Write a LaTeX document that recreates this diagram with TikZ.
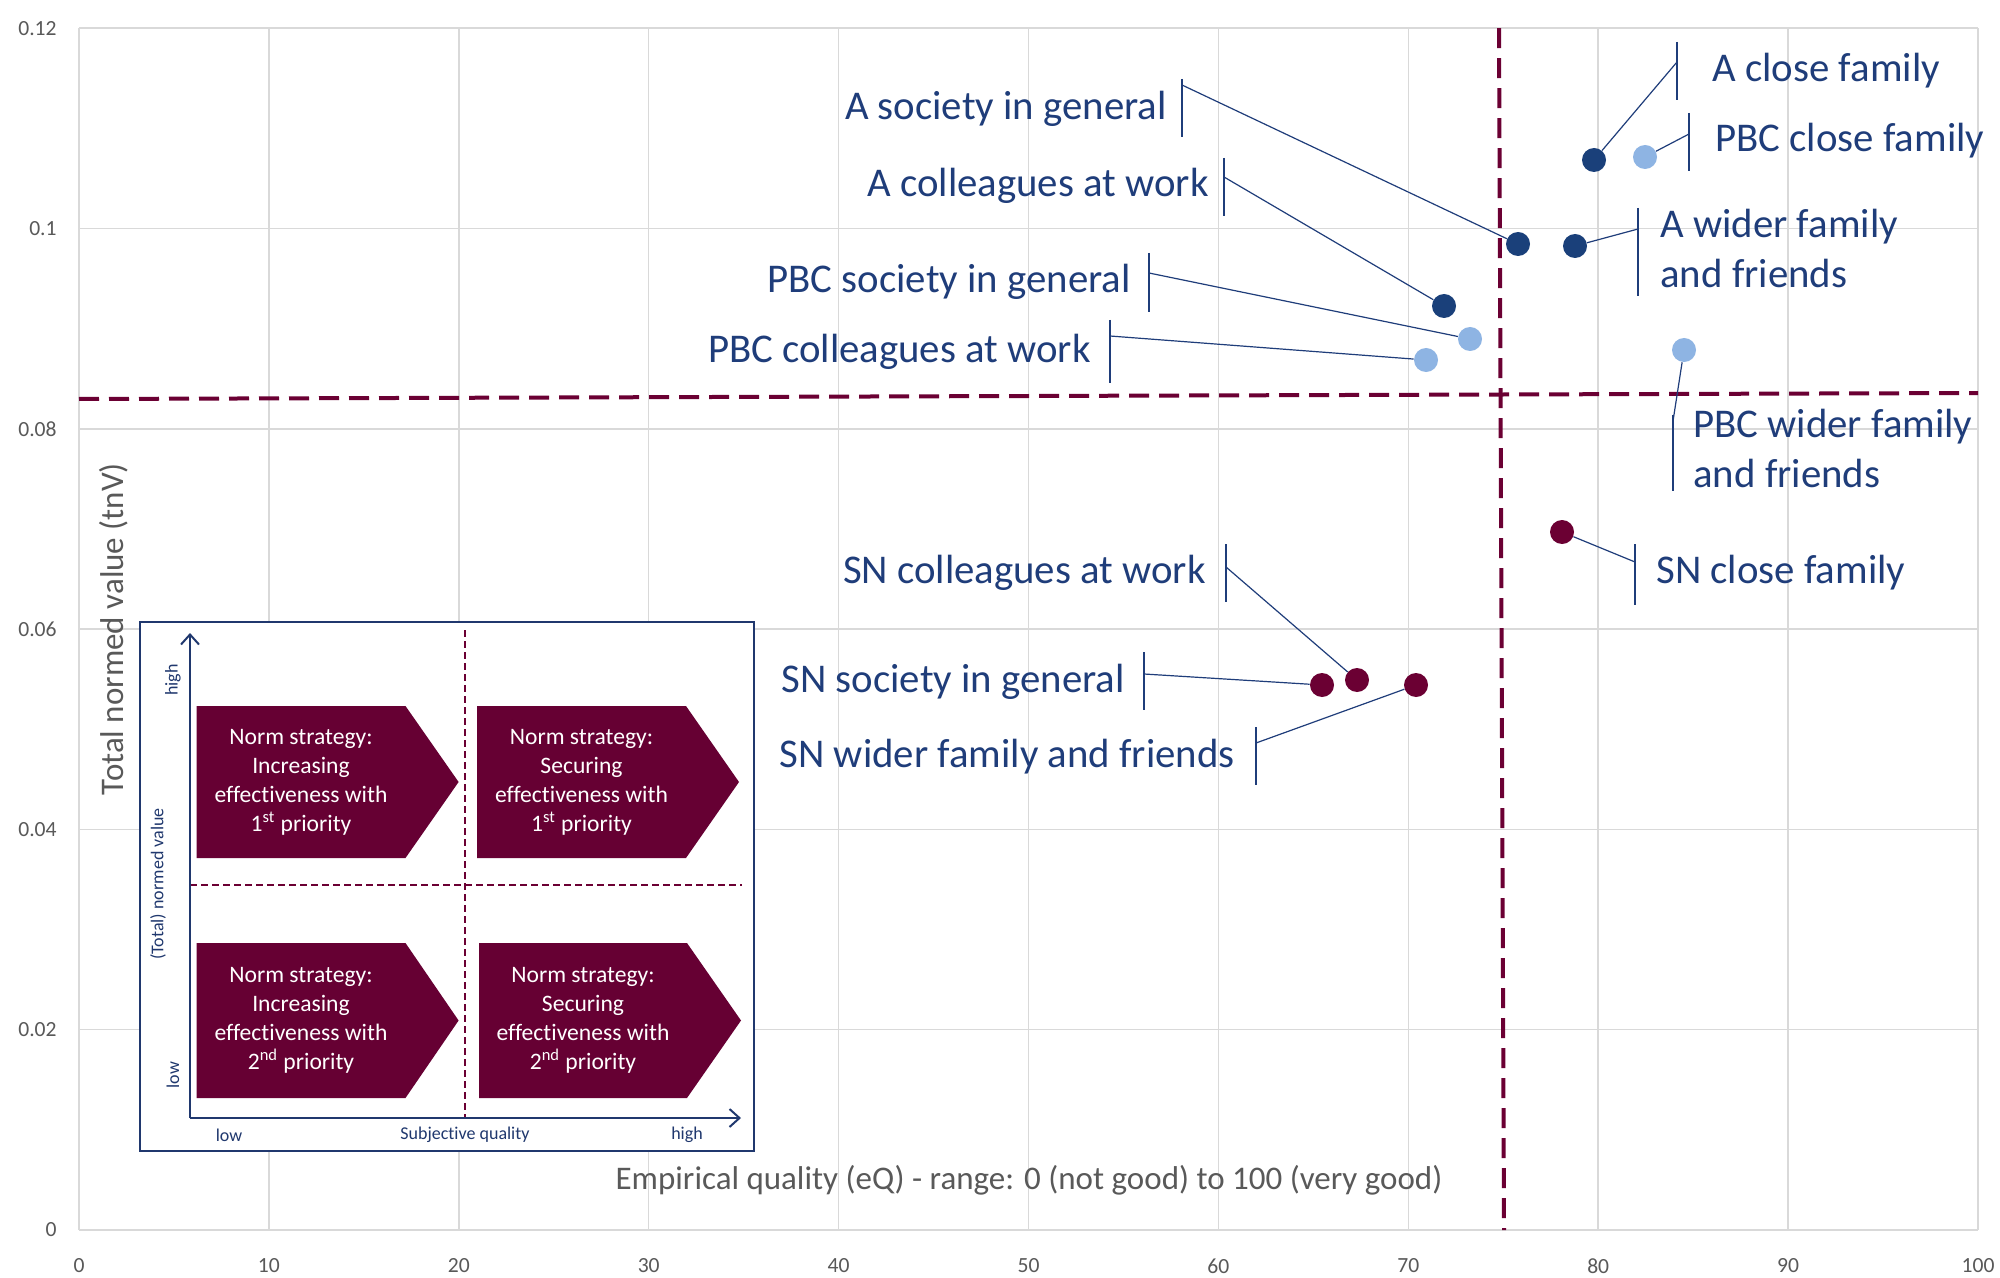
\documentclass[tikz,border=0pt]{standalone}
\usepackage{fontspec}
\setmainfont{Carlito}[Ligatures=NoCommon]
\usetikzlibrary{arrows.meta}
\definecolor{gridgray}{RGB}{217,217,217}
\definecolor{tickgray}{RGB}{89,89,89}
\definecolor{maroon}{RGB}{107,0,51}
\definecolor{darkpt}{RGB}{26,64,122}
\definecolor{lightpt}{RGB}{142,180,227}
\definecolor{lblblue}{RGB}{31,61,122}
\definecolor{insetblue}{RGB}{32,56,110}
\definecolor{boxfill}{RGB}{102,0,51}
\begin{document}
\begin{tikzpicture}[x=0.5pt,y=-0.5pt,
  gridline/.style={draw=gridgray,line width=0.75pt},
  ticklbl/.style={text=tickgray,font=\fontsize{10.8}{13}\selectfont,inner sep=0pt},
  axtitle/.style={text=tickgray,font=\fontsize{16.5}{20}\selectfont,inner sep=0pt},
  refline/.style={draw=maroon,line width=2pt,dash pattern=on 10pt off 5pt},
  dkpt/.style={circle,fill=darkpt,minimum size=12pt,inner sep=0pt},
  ltpt/.style={circle,fill=lightpt,minimum size=12pt,inner sep=0pt},
  mrpt/.style={circle,fill=maroon,minimum size=12pt,inner sep=0pt},
  lbltext/.style={text=lblblue,font=\fontsize{20.4}{25}\selectfont,inner sep=0pt,align=left},
  leader/.style={draw=lblblue,line width=0.6pt},
  insetaxis/.style={draw=insetblue,line width=1pt},
  insetdash/.style={draw=maroon,line width=0.6pt,dash pattern=on 3.5pt off 2pt},
  insettext/.style={text=insetblue,font=\fontsize{9}{11}\selectfont,inner sep=0pt},
  strattext/.style={text=white,font=\fontsize{11.8}{14.5}\selectfont,align=center,inner sep=0pt},
  stratbox/.style={fill=boxfill}
]
\useasboundingbox (0,0) rectangle (2000,1278);
\fill[white] (0,0) rectangle (2000,1278);

% gridlines
\foreach \i in {0,...,10} {
  \draw[gridline] ({79+189.9*\i},28.2) -- ({79+189.9*\i},1230);
}
\foreach \j in {0,...,6} {
  \draw[gridline] (79,{1230-200.3*\j}) -- (1978,{1230-200.3*\j});
}
% tick labels
\foreach \i/\t in {0/0,1/10,2/20,3/30,4/40,5/50,6/60,7/70,8/80,9/90,10/100} {
  \node[ticklbl] (xt\i) at ({79+189.9*\i},1266) {\t};
}
\foreach \j/\t in {0/0,1/0.02,2/0.04,3/0.06,4/0.08,5/0.1,6/0.12} {
  \node[ticklbl,anchor=east] (yt\j) at (57,{1230-200.3*\j}) {\t};
}
% axis titles
\node[axtitle,anchor=base] (xtitle) at (1029,1189) {Empirical quality (eQ) - range: 0 (not good) to 100 (very good)};
\node[axtitle,rotate=90,anchor=base] (ytitle) at (123,629) {Total normed value (tnV)};

% reference dashed lines
\coordinate (vtop) at (1499,28.2);
\coordinate (vbot) at (1504,1230);
\coordinate (hleft) at (79,399);
\coordinate (hright) at (1978,393);
\draw[refline] (vtop) -- (vbot);
\draw[refline] (hleft) -- (hright);

% inset
\draw[insetaxis,fill=white] (140,622) rectangle (754,1151);
\coordinate (io) at (190,1118);
\coordinate (iytop) at (190,633);
\coordinate (ixend) at (741,1118);
\coordinate (ivt) at (465,630);
\coordinate (ivb) at (465,1118);
\coordinate (ihl) at (190,885);
\coordinate (ihr) at (742,885);
\draw[insetdash] (ivt) -- (ivb);
\draw[insetdash] (ihl) -- (ihr);
\draw[insetaxis,-{Straight Barb[length=5pt,width=9pt]}] (io) -- (iytop);
\draw[insetaxis,-{Straight Barb[length=5pt,width=9pt]}] (io) -- (ixend);

\fill[stratbox] (196.5,706) -- (405.5,706) -- (458.6,782) -- (405.5,858) -- (196.5,858) -- cycle;
\fill[stratbox] (477,706) -- (686,706) -- (739,782) -- (686,858) -- (477,858) -- cycle;
\fill[stratbox] (196.5,943) -- (405.5,943) -- (458.6,1020.5) -- (405.5,1098) -- (196.5,1098) -- cycle;
\fill[stratbox] (479,943) -- (687,943) -- (741,1020.5) -- (687,1098) -- (479,1098) -- cycle;
\node[strattext] (s1) at (301,782) {Norm strategy:\\Increasing\\effectiveness with\\1\textsuperscript{st} priority};
\node[strattext] (s2) at (581.5,782) {Norm strategy:\\Securing\\effectiveness with\\1\textsuperscript{st} priority};
\node[strattext] (s3) at (301,1020.5) {Norm strategy:\\Increasing\\effectiveness with\\2\textsuperscript{nd} priority};
\node[strattext] (s4) at (583,1020.5) {Norm strategy:\\Securing\\effectiveness with\\2\textsuperscript{nd} priority};

\node[insettext,rotate=90] (ihigh) at (173,680) {high};
\node[insettext,rotate=90] (ilow) at (173,1075) {low};
\node[insettext,rotate=90] (iyt) at (158,884) {(Total) normed value};
\node[insettext] (xlow) at (229,1135) {low};
\node[insettext] (xsq) at (465,1135) {Subjective quality};
\node[insettext] (xhigh) at (687,1135) {high};

% data points
\node[dkpt] (pACF) at (1594,160) {};
\node[ltpt] (pPCF) at (1645,157) {};
\node[dkpt] (pAS) at (1518,244) {};
\node[dkpt] (pAW) at (1575,246) {};
\node[dkpt] (pAC) at (1444,306) {};
\node[ltpt] (pPS) at (1470,339) {};
\node[ltpt] (pPC) at (1426,360) {};
\node[ltpt] (pPW) at (1684,350) {};
\node[mrpt] (pSCF) at (1562,532) {};
\node[mrpt] (pSC) at (1357,680) {};
\node[mrpt] (pSS) at (1322,685) {};
\node[mrpt] (pSW) at (1416,685) {};

% labels right of points
\node[lbltext,anchor=base west] (lACF) at (1712,82) {A close family};
\coordinate (bACFt) at (1677,42); \coordinate (bACFb) at (1677,100); \coordinate (aACF) at (1677,62);
\node[lbltext,anchor=base west] (lPCF) at (1715,152) {PBC close family};
\coordinate (bPCFt) at (1689,113); \coordinate (bPCFb) at (1689,171); \coordinate (aPCF) at (1689,134);
\node[lbltext,anchor=base west] (lAW) at (1660,288) {A wider family\\and friends};
\coordinate (bAWt) at (1638,208); \coordinate (bAWb) at (1638,296); \coordinate (aAW) at (1638,229);
\node[lbltext,anchor=base west] (lPW) at (1693,487) {PBC wider family\\and friends};
\coordinate (bPWt) at (1673,415); \coordinate (bPWb) at (1673,491); \coordinate (aPW) at (1673,421);
\node[lbltext,anchor=base west] (lSCF) at (1656,583) {SN close family};
\coordinate (bSCFt) at (1635,544); \coordinate (bSCFb) at (1635,605); \coordinate (aSCF) at (1635,562);

% labels left of points
\node[lbltext,anchor=base east] (lAS) at (1167,120) {A society in general};
\coordinate (bASt) at (1182,79); \coordinate (bASb) at (1182,137); \coordinate (aAS) at (1182,85);
\node[lbltext,anchor=base east] (lAC) at (1209,197) {A colleagues at work};
\coordinate (bACt) at (1224,158); \coordinate (bACb) at (1224,216); \coordinate (aAC) at (1224,177);
\node[lbltext,anchor=base east] (lPS) at (1131,293) {PBC society in general};
\coordinate (bPSt) at (1149,253); \coordinate (bPSb) at (1149,312); \coordinate (aPS) at (1149,273);
\node[lbltext,anchor=base east] (lPC) at (1091,363) {PBC colleagues at work};
\coordinate (bPCt) at (1110,320); \coordinate (bPCb) at (1110,383); \coordinate (aPC) at (1110,336);
\node[lbltext,anchor=base east] (lSC) at (1206,583) {SN colleagues at work};
\coordinate (bSCt) at (1226,544); \coordinate (bSCb) at (1226,602); \coordinate (aSC) at (1226,567);
\node[lbltext,anchor=base east] (lSS) at (1125,692) {SN society in general};
\coordinate (bSSt) at (1144,652); \coordinate (bSSb) at (1144,710); \coordinate (aSS) at (1144,674);
\node[lbltext,anchor=base east] (lSW) at (1235,767) {SN wider family and friends};
\coordinate (bSWt) at (1256,727); \coordinate (bSWb) at (1256,785); \coordinate (aSW) at (1256,743);

% bars and leader lines
\foreach \k in {ACF,PCF,AW,PW,SCF,AS,AC,PS,PC,SC,SS,SW} {
  \draw[leader] (b\k t) -- (b\k b);
  \draw[leader] (a\k) -- (p\k);
}
\end{tikzpicture}
\end{document}
